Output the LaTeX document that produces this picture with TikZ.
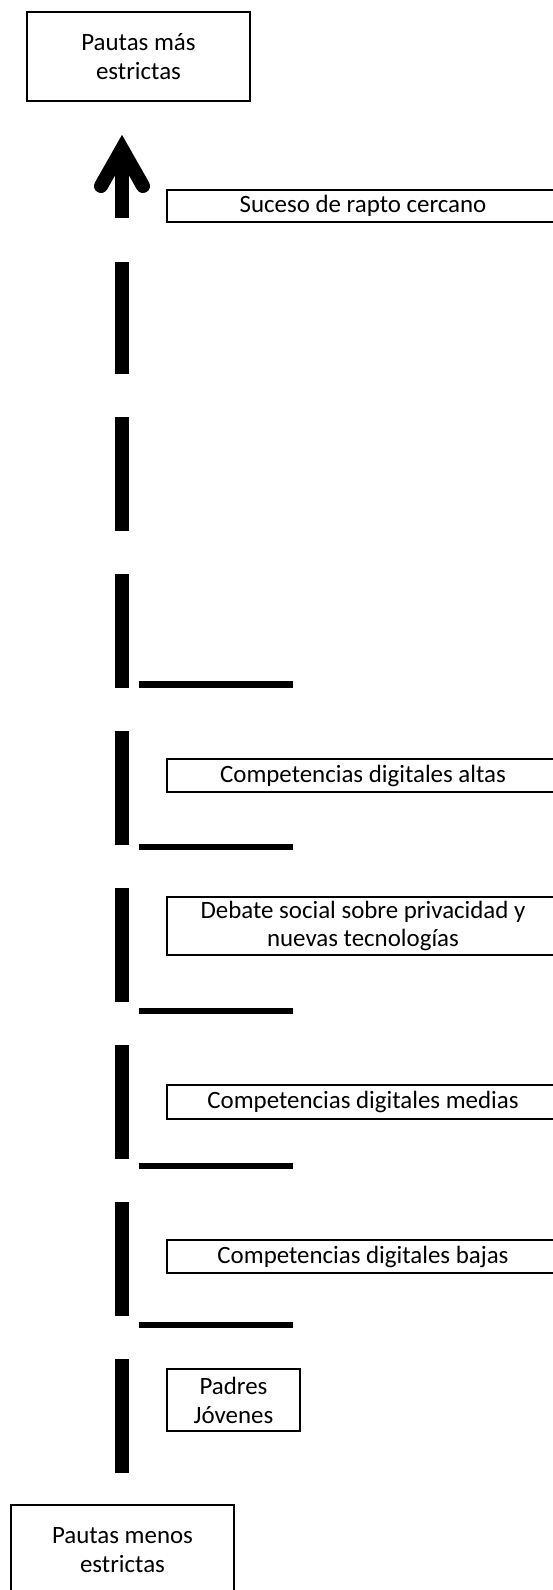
\documentclass[tikz,border=0pt]{standalone}
\usepackage{fontspec}
\setmainfont{Carlito}
\begin{document}
\begin{tikzpicture}[x=1bp,y=-1bp,
  box/.style={draw,line width=2bp,inner sep=0pt,align=center,font=\fontsize{25}{29}\selectfont},
  wide/.style={box,minimum width=392bp},
  tick/.style={line width=6.5bp},
  dashline/.style={line width=14bp,dash pattern=on 114bp off 43bp},
  arrowbody/.style={line width=14bp},
  arrowhead/.style={line width=14bp,line cap=round,miter limit=10}
  ]
\useasboundingbox (0,0) rectangle (553,1590);
\clip (0,0) rectangle (553,1590);
% boxes
\node[box,minimum width=223bp,minimum height=89bp] (top) at (138.5,56.5) {Pautas más\\estrictas};
\node[wide,minimum height=32bp] (suceso) at (363,206) {Suceso de rapto cercano};
\node[wide,minimum height=33bp] (altas) at (363,775.5) {Competencias digitales altas};
\node[wide,minimum height=58bp] (debate) at (363,926) {Debate social sobre privacidad y\\nuevas tecnologías};
\node[wide,minimum height=34bp] (medias) at (363,1102) {Competencias digitales medias};
\node[wide,minimum height=33bp] (bajas) at (363,1256.5) {Competencias digitales bajas};
\node[box,minimum width=133bp,minimum height=62bp] (padres) at (233.5,1400) {Padres\\Jóvenes};
\node[box,minimum width=223bp,minimum height=91bp] (bottom) at (122.5,1550.5) {Pautas menos\\estrictas};
% axis
\coordinate (base) at (122,1473);
\coordinate (dtop) at (122,262);
\coordinate (sbot) at (122,218);
\coordinate (tip) at (122,149);
\coordinate (hl) at (101,186);
\coordinate (hr) at (143,186);
\draw[dashline] (base) -- (dtop);
\draw[arrowbody] (sbot) -- (tip);
\draw[arrowhead] (hl) -- (tip) -- (hr);
% level markers
\foreach \y in {684.5,847,1011,1166,1325}
  \draw[tick] (139,\y) -- (293,\y);
\end{tikzpicture}
\end{document}
